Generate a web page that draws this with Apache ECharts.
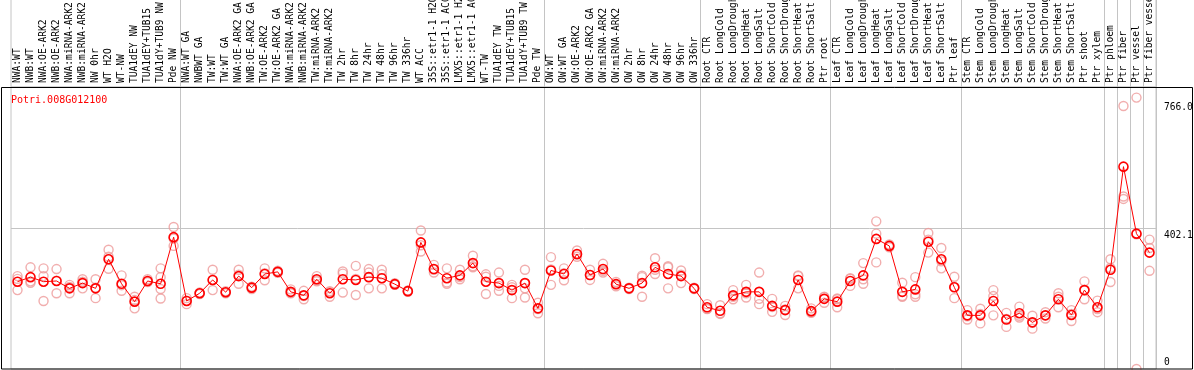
<!DOCTYPE html>
<html>
<head>
<meta charset="utf-8">
<script src="https://cdn.jsdelivr.net/npm/echarts@6/dist/echarts.min.js"></script>
<style>
  html, body { margin: 0; padding: 0; background: #fff; }
  #chart { width: 1194px; height: 370px; }
</style>
</head>
<body>
<div id="chart"></div>
<script>
const samples = [
  'NWA:WT', 'NWB:WT', 'NWA:OE-ARK2', 'NWB:OE-ARK2', 'NWA:miRNA-ARK2', 'NWB:miRNA-ARK2',
  'NW 0hr', 'WT H2O', 'WT-NW', 'TUA1dEY NW', 'TUA1dEY+TUB15', 'TUA1dY+TUB9 NW', 'Pde NW',
  'NWA:WT GA', 'NWBWT GA', 'TW:WT', 'TW:WT GA', 'NWA:OE-ARK2 GA', 'NWB:OE-ARK2 GA',
  'TW:OE-ARK2', 'TW:OE-ARK2 GA', 'NWA:miRNA-ARK2', 'NWB:miRNA-ARK2', 'TW:miRNA-ARK2', 'TW:miRNA-ARK2',
  'TW 2hr', 'TW 8hr', 'TW 24hr', 'TW 48hr', 'TW 96hr', 'TW 336hr', 'WT ACC',
  '35S::etr1-1 H2O', '35S::etr1-1 ACC', 'LMX5::etr1-1 H2O', 'LMX5::etr1-1 ACC',
  'WT-TW', 'TUA1dEY TW', 'TUA1dEY+TUB15', 'TUA1dY+TUB9 TW', 'Pde TW',
  'OW:WT', 'OW:WT GA', 'OW:OE-ARK2', 'OW:OE-ARK2 GA', 'OW:miRNA-ARK2', 'OW:miRNA-ARK2',
  'OW 2hr', 'OW 8hr', 'OW 24hr', 'OW 48hr', 'OW 96hr', 'OW 336hr',
  'Root CTR', 'Root LongCold', 'Root LongDrought', 'Root LongHeat', 'Root LongSalt',
  'Root ShortCold', 'Root ShortDrought', 'Root ShortHeat', 'Root ShortSalt', 'Ptr root',
  'Leaf CTR', 'Leaf LongCold', 'Leaf LongDrought', 'Leaf LongHeat', 'Leaf LongSalt',
  'Leaf ShortCold', 'Leaf ShortDrought', 'Leaf ShortHeat', 'Leaf ShortSalt', 'Ptr leaf',
  'Stem CTR', 'Stem LongCold', 'Stem LongDrought', 'Stem LongHeat', 'Stem LongSalt',
  'Stem ShortCold', 'Stem ShortDrought', 'Stem ShortHeat', 'Stem ShortSalt', 'Ptr shoot', 'Ptr xylem',
  'Ptr phloem', 'Ptr fiber', 'Ptr vessel', 'Ptr fiber vessel'
];

// index of the first sample of each block (separator lines)
const groupStarts = [13, 41, 53, 63, 73, 84, 85, 86, 87];

const means = [
  249, 262, 249, 251, 230, 245, 230, 313, 243, 192, 251, 243, 376,
  194, 216, 254, 219, 265, 232, 271, 277, 220, 210, 256, 216, 256, 254, 262,
  259, 242, 222, 361, 285, 259, 267, 302, 249, 245, 225, 245, 173,
  281, 271, 328, 268, 285, 242, 230, 245, 290, 271, 265, 230,
  176, 166, 210, 220, 220, 180, 168, 254, 165, 200,
  192, 251, 267, 371, 351, 220, 227, 363, 313, 233,
  153, 153, 194, 141, 159, 133, 153, 199, 154, 225, 176,
  283, 577, 386, 332
];

const replicates = [
  [265, 257, 225], [290, 250, 246], [287, 265, 194], [285, 252, 216], [240, 234, 216],
  [256, 249, 230], [256, 232, 202], [340, 320, 286], [267, 239, 223], [206, 197, 173],
  [256, 248, 249], [287, 262, 228, 201], [405, 351, 372],
  [202, 185, 195], [218, 214, 216], [283, 225, 254], [222, 216, 219], [283, 243, 269],
  [235, 228, 233], [287, 253, 273], [280, 274, 277], [227, 216, 217], [223, 199, 208],
  [265, 250, 253], [220, 206, 222], [278, 272, 218], [294, 257, 211], [285, 275, 230],
  [283, 270, 230], [245, 240, 241], [224, 220, 222], [395, 335, 353], [297, 275, 283],
  [287, 243, 247], [283, 256, 262], [323, 290, 293], [270, 263, 214], [275, 223, 237],
  [240, 233, 202], [283, 245, 230, 204], [189, 159, 171],
  [319, 240, 284], [287, 253, 273], [338, 320, 326], [283, 268, 254], [300, 275, 280],
  [248, 242, 236], [232, 228, 230], [262, 266, 206], [316, 271, 283], [293, 290, 230],
  [281, 245, 269], [232, 228, 230],
  [185, 171, 172], [182, 159, 157], [225, 199, 206], [240, 204, 216], [275, 200, 185],
  [200, 163, 177], [180, 154, 170], [265, 230, 267], [173, 160, 162], [206, 189, 205],
  [201, 176, 199], [259, 237, 257], [302, 256, 243], [421, 386, 304], [355, 347, 351],
  [246, 206, 208], [262, 206, 213], [388, 332, 369], [345, 287, 307], [263, 202, 234],
  [168, 141, 150], [172, 130, 157], [225, 208, 153], [160, 120, 143], [178, 147, 152],
  [152, 115, 132], [162, 144, 153], [216, 206, 176], [168, 137, 157], [250, 199, 226],
  [195, 162, 171], [313, 248, 288],
  [750, 492, 485], [774, 0, 384], [369, 345, 280]
];

const refLines = [766.0, 402.1, 0];
const geneId = 'Potri.008G012100';

const repPoints = [];
replicates.forEach(function (r, i) {
  r.forEach(function (v) { repPoints.push([i, v]); });
});

const mono = 'DejaVu Sans Mono';
const gridGray = '#c4c4c4';

const chart = echarts.init(document.getElementById('chart'), null, { renderer: 'canvas' });

const option = {
  animation: false,
  backgroundColor: '#fff',
  title: {
    text: geneId,
    left: 6,
    top: 90,
    textStyle: { color: '#ff0000', fontFamily: mono, fontSize: 10, fontWeight: 'normal' }
  },
  grid: [
    // label strip on top, only used for the separator lines
    { left: 11, right: 38, top: -1, height: 88, show: true, borderColor: gridGray, borderWidth: 1,
      containLabel: false, outerBoundsMode: 'none' },
    // plot
    { left: 11, right: 38, top: 87, bottom: 1, show: true, borderColor: gridGray, borderWidth: 1,
      containLabel: false, outerBoundsMode: 'none' }
  ],
  xAxis: [
    {
      gridIndex: 0,
      type: 'category',
      data: samples,
      axisLine: { show: false },
      axisTick: { show: false },
      axisLabel: { show: false },
      splitLine: {
        show: true,
        interval: function (idx) { return groupStarts.indexOf(idx) >= 0; },
        lineStyle: { color: gridGray, width: 1 }
      }
    },
    {
      gridIndex: 1,
      type: 'category',
      position: 'top',
      data: samples,
      axisLine: { show: false },
      axisTick: { show: false },
      axisLabel: {
        interval: 0,
        rotate: 90,
        margin: 4,
        color: '#000',
        fontFamily: mono,
        fontSize: 9.6
      },
      splitLine: {
        show: true,
        interval: function (idx) { return groupStarts.indexOf(idx) >= 0; },
        lineStyle: { color: gridGray, width: 1 }
      }
    }
  ],
  yAxis: [
    { gridIndex: 0, type: 'value', show: false },
    { gridIndex: 1, type: 'value', min: 0, max: 804.2, show: false }
  ],
  series: [
    {
      name: 'replicates',
      type: 'scatter',
      xAxisIndex: 1,
      yAxisIndex: 1,
      data: repPoints,
      symbol: 'circle',
      symbolSize: 9,
      itemStyle: { color: 'rgba(0,0,0,0)', borderColor: '#ee9a9a', borderWidth: 1.4 },
      z: 2
    },
    {
      name: 'mean',
      type: 'line',
      xAxisIndex: 1,
      yAxisIndex: 1,
      data: means,
      symbol: 'circle',
      symbolSize: 9,
      lineStyle: { color: '#ff0000', width: 1 },
      itemStyle: { color: 'rgba(0,0,0,0)', borderColor: '#ff0000', borderWidth: 1.6 },
      z: 3,
      markLine: {
        silent: true,
        symbol: 'none',
        lineStyle: { color: gridGray, type: 'solid', width: 1 },
        label: {
          position: 'end',
          distance: 8,
          verticalAlign: 'top',
          padding: [2, 0, 0, 0],
          color: '#000',
          fontFamily: mono,
          fontSize: 9.6,
          formatter: function (p) { return p.value === 0 ? '0' : p.value.toFixed(1); }
        },
        data: [
          { yAxis: refLines[0], lineStyle: { color: 'rgba(0,0,0,0)' } },
          { yAxis: refLines[1] },
          { yAxis: refLines[2], lineStyle: { color: 'rgba(0,0,0,0)' },
            label: { verticalAlign: 'bottom', padding: [0, 0, 2, 0] } }
        ],
        z: 1
      }
    }
  ],
  graphic: [
    {
      type: 'rect',
      z: 100,
      silent: true,
      shape: { x: 1.5, y: 87.5, width: 1191, height: 281.5 },
      style: { fill: 'none', stroke: '#000', lineWidth: 1 }
    }
  ]
};

chart.setOption(option);
</script>
</body>
</html>
